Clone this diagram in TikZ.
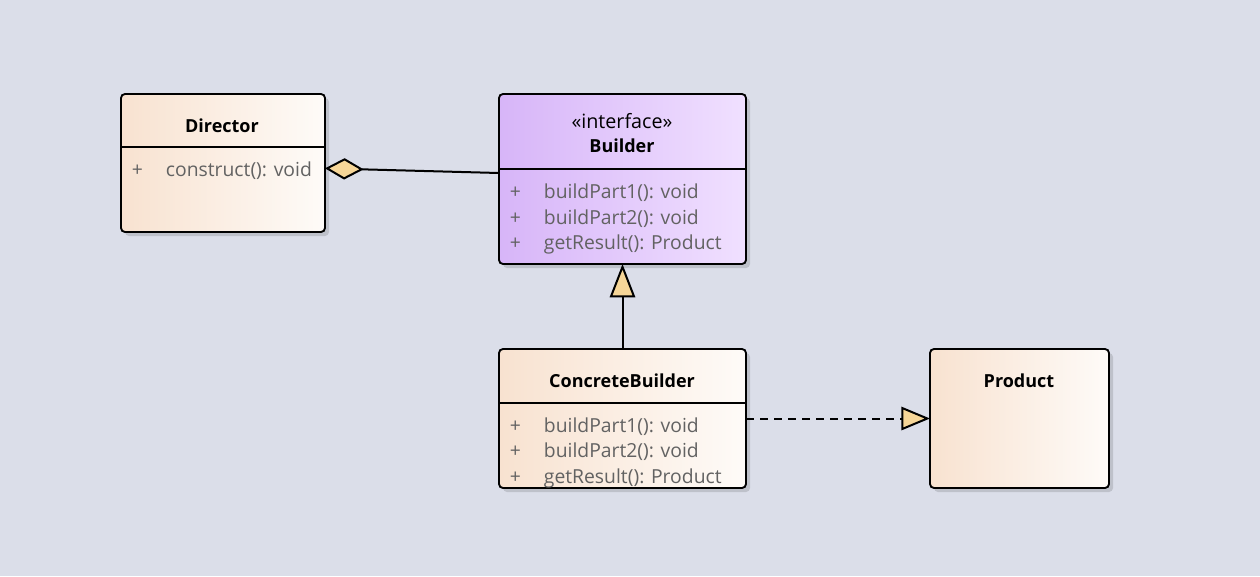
\documentclass[tikz,border=0pt]{standalone}
\usepackage{fontspec}
\setmainfont{Open Sans}
\usepackage{tikz}
\usetikzlibrary{arrows.meta}
\usetikzlibrary{shadows}

\definecolor{bgcol}{RGB}{219,222,233}
\definecolor{peachL}{RGB}{248,226,208}
\definecolor{peachR}{RGB}{254,251,248}
\definecolor{lilacL}{RGB}{215,181,248}
\definecolor{lilacR}{RGB}{240,224,255}
\definecolor{tipcol}{RGB}{246,214,152}
\definecolor{membercol}{RGB}{98,98,98}

\begin{document}
\begin{tikzpicture}[x=0.75pt,y=-0.75pt,line width=1.4pt,
	class box/.style={rectangle, draw, rounded corners=3pt, anchor=north west, inner sep=0pt, outer sep=0pt,
		left color=peachL, right color=peachR,
		drop shadow={shadow xshift=3pt, shadow yshift=-3pt, fill=black, opacity=0.13}},
	iface box/.style={class box, left color=lilacL, right color=lilacR},
	title/.style={font=\fontsize{13.5}{16}\selectfont\bfseries},
	stereo/.style={font=\fontsize{14.8}{17}\selectfont},
	member/.style={font=\fontsize{14.5}{17}\selectfont, text=membercol, anchor=west, inner sep=0pt}]
	
	\fill[bgcol] (0,0) rectangle (1260,576);
	\useasboundingbox (0,0) rectangle (1260,576);
	
	\node[class box, minimum width=153pt, minimum height=103.5pt] (dir) at (121,94) {};
	\node[iface box, minimum width=185.25pt, minimum height=127.5pt] (bld) at (499,94) {};
	\node[class box, minimum width=185.25pt, minimum height=104.25pt] (cb) at (499,349) {};
	\node[class box, minimum width=134.25pt, minimum height=104.25pt] (prod) at (930,349) {};
	
	% compartments
	\draw ([yshift=-39.75pt]dir.north west) -- ([yshift=-39.75pt]dir.north east);
	\draw ([yshift=-56.25pt]bld.north west) -- ([yshift=-56.25pt]bld.north east);
	\draw ([yshift=-40.5pt]cb.north west) -- ([yshift=-40.5pt]cb.north east);
	
	\node[title] (dirname) at (222,126) {Director};
	\node[stereo] (bldstereo) at (622,121) {«interface»};
	\node[title] (bldname) at (622,146) {Builder};
	\node[title] (cbname) at (622,381) {ConcreteBuilder};
	\node[title] (prodname) at (1019,381) {Product};
	
	\node[member] (dirp1) at (131,171) {+};
	\node[member] (dirm1) at (165,171) {construct(): void};
	
	\node[member] (bldp1) at (509,193) {+};
	\node[member] (bldm1) at (543,193) {buildPart1(): void};
	\node[member] (bldp2) at (509,219) {+};
	\node[member] (bldm2) at (543,219) {buildPart2(): void};
	\node[member] (bldp3) at (509,244) {+};
	\node[member] (bldm3) at (543,244) {getResult(): Product};
	
	\node[member] (cbp1) at (509,427) {+};
	\node[member] (cbm1) at (543,427) {buildPart1(): void};
	\node[member] (cbp2) at (509,452) {+};
	\node[member] (cbm2) at (543,452) {buildPart2(): void};
	\node[member] (cbp3) at (509,478) {+};
	\node[member] (cbm3) at (543,478) {getResult(): Product};
	
	\path[line width=1.5pt]
	([yshift=-4pt]dir.east)
	edge[{Diamond[length=29pt,width=16pt,fill=tipcol]}-] ([yshift=4.5pt]bld.west)
	
	(cb.north)
	edge[-{Triangle[length=25pt,width=19pt,fill=tipcol]}] (bld.south)
	
	(cb.east)
	edge[dashed, dash pattern=on 6pt off 4.5pt, -{Triangle[length=21.5pt,width=17.5pt,fill=tipcol,sep=0pt]}] (prod.west);
	
\end{tikzpicture}
\end{document}
